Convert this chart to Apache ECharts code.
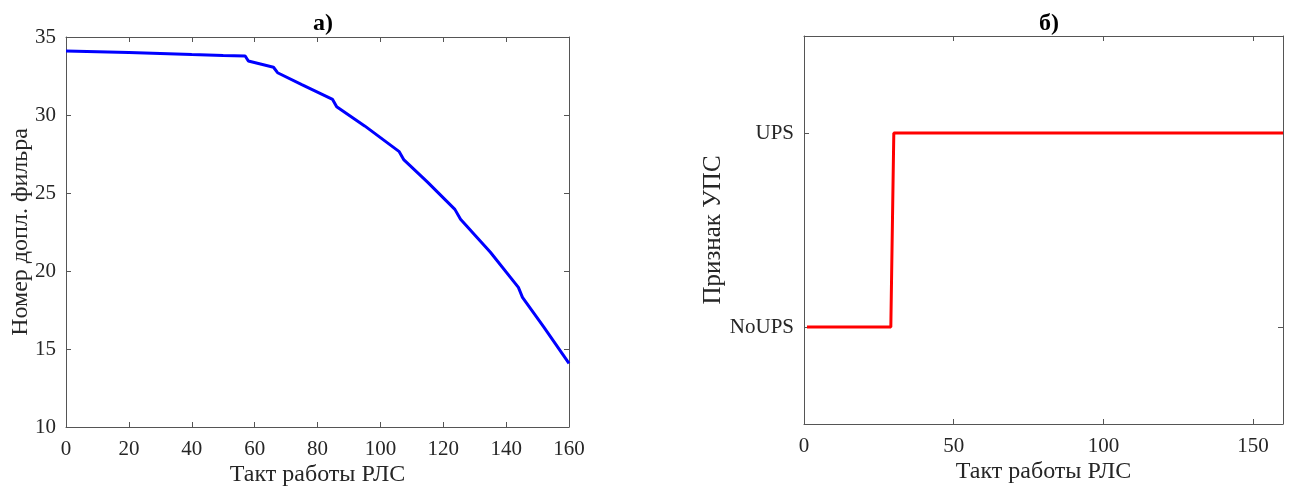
<!DOCTYPE html>
<html lang="ru">
<head>
<meta charset="UTF-8">
<title>Номер фильтра и признак УПС</title>
<style>
  html, body { margin: 0; padding: 0; background: #fff; }
  #chart { width: 1290px; height: 488px; }
</style>
</head>
<body>
<div id="chart"></div>
<script src="https://cdn.jsdelivr.net/npm/echarts@6/dist/echarts.min.js"></script>
<script>
// а) номер доплеровского фильтра по тактам
var taktA = [0, 10, 20, 30, 40, 50, 57, 58, 66, 67.3, 75, 84.8, 86.1, 95, 106, 107.5, 115, 123.7, 125.5, 135, 143.9, 145.2, 152, 160];
var filterNo = [34.1, 34.05, 34.0, 33.95, 33.88, 33.82, 33.78, 33.46, 33.06, 32.71, 31.95, 31.0, 30.53, 29.3, 27.65, 27.12, 25.7, 23.95, 23.31, 21.2, 18.95, 18.31, 16.4, 14.08];

// б) признак УПС
var taktB = [1, 29, 30, 160];
var upsFlag = [0, 0, 1, 1];
var upsLabels = ['NoUPS', 'UPS'];

var font = 'Liberation Serif, Times New Roman, serif';
var axisColor = '#555';
var textColor = '#262626';

function frameAxis(gridIndex, position) {
  return {
    gridIndex: gridIndex,
    position: position,
    type: 'value',
    nameMoveOverlap: false,
    axisLine: { show: true, onZero: false, lineStyle: { color: axisColor, width: 1 } },
    axisTick: { show: true, inside: true, length: 5, lineStyle: { color: axisColor } },
    axisLabel: { show: false },
    splitLine: { show: false }
  };
}

var tickLabel = { show: true, fontFamily: font, fontSize: 21, color: textColor, margin: 12 };
var nameStyle = { fontFamily: font, fontSize: 24, color: textColor };

var chart = echarts.init(document.getElementById('chart'));
chart.setOption({
  animation: false,
  backgroundColor: '#fff',
  textStyle: { fontFamily: font },
  title: [
    { text: 'а)', left: 318, top: 7, textAlign: 'center',
      textStyle: { fontFamily: font, fontSize: 24, fontWeight: 'bold', color: '#000' } },
    { text: 'б)', left: 1044, top: 7, textAlign: 'center',
      textStyle: { fontFamily: font, fontSize: 24, fontWeight: 'bold', color: '#000' } }
  ],
  grid: [
    { left: 66, top: 37, width: 503, height: 390, outerBoundsMode: 'none', containLabel: false },
    { left: 804, top: 36, width: 479, height: 388, outerBoundsMode: 'none', containLabel: false }
  ],
  xAxis: [
    Object.assign(frameAxis(0, 'bottom'), {
      min: 0, max: 160, interval: 20,
      name: 'Такт работы РЛС', nameLocation: 'middle', nameGap: 36,
      nameTextStyle: nameStyle,
      axisLabel: tickLabel
    }),
    Object.assign(frameAxis(0, 'top'), { min: 0, max: 160, interval: 20 }),
    Object.assign(frameAxis(1, 'bottom'), {
      min: 0, max: 160, interval: 50,
      name: 'Такт работы РЛС', nameLocation: 'middle', nameGap: 36,
      nameTextStyle: nameStyle,
      axisLabel: Object.assign({}, tickLabel, { customValues: [0, 50, 100, 150] }),
      axisTick: { show: true, inside: true, length: 5, lineStyle: { color: axisColor },
                  customValues: [0, 50, 100, 150] }
    }),
    Object.assign(frameAxis(1, 'top'), {
      min: 0, max: 160, interval: 50,
      axisTick: { show: true, inside: true, length: 5, lineStyle: { color: axisColor },
                  customValues: [0, 50, 100, 150] }
    })
  ],
  yAxis: [
    Object.assign(frameAxis(0, 'left'), {
      min: 10, max: 35, interval: 5,
      name: 'Номер допл. фильра', nameLocation: 'middle', nameGap: 33,
      nameTextStyle: nameStyle,
      axisLabel: Object.assign({}, tickLabel, { margin: 10 })
    }),
    Object.assign(frameAxis(0, 'right'), { min: 10, max: 35, interval: 5 }),
    Object.assign(frameAxis(1, 'left'), {
      min: -0.5, max: 1.5,
      name: 'Признак УПС', nameLocation: 'middle', nameGap: 78,
      nameTextStyle: Object.assign({}, nameStyle, { fontSize: 25 }),
      axisLabel: Object.assign({}, tickLabel, {
        margin: 10,
        customValues: [0, 1],
        formatter: function (v) { return upsLabels[Math.round(v)]; }
      }),
      axisTick: { show: true, inside: true, length: 5, lineStyle: { color: axisColor },
                  customValues: [0, 1] }
    }),
    Object.assign(frameAxis(1, 'right'), {
      min: -0.5, max: 1.5,
      axisTick: { show: true, inside: true, length: 5, lineStyle: { color: axisColor },
                  customValues: [0, 1] }
    })
  ],
  series: [
    {
      type: 'line', xAxisIndex: 0, yAxisIndex: 0,
      data: taktA.map(function (x, i) { return [x, filterNo[i]]; }),
      showSymbol: false, lineStyle: { color: '#0000ff', width: 3 }, itemStyle: { color: '#0000ff' }
    },
    {
      type: 'line', xAxisIndex: 2, yAxisIndex: 2,
      data: taktB.map(function (x, i) { return [x, upsFlag[i]]; }),
      showSymbol: false, lineStyle: { color: '#ff0000', width: 3 }, itemStyle: { color: '#ff0000' }
    }
  ]
});
</script>
</body>
</html>
